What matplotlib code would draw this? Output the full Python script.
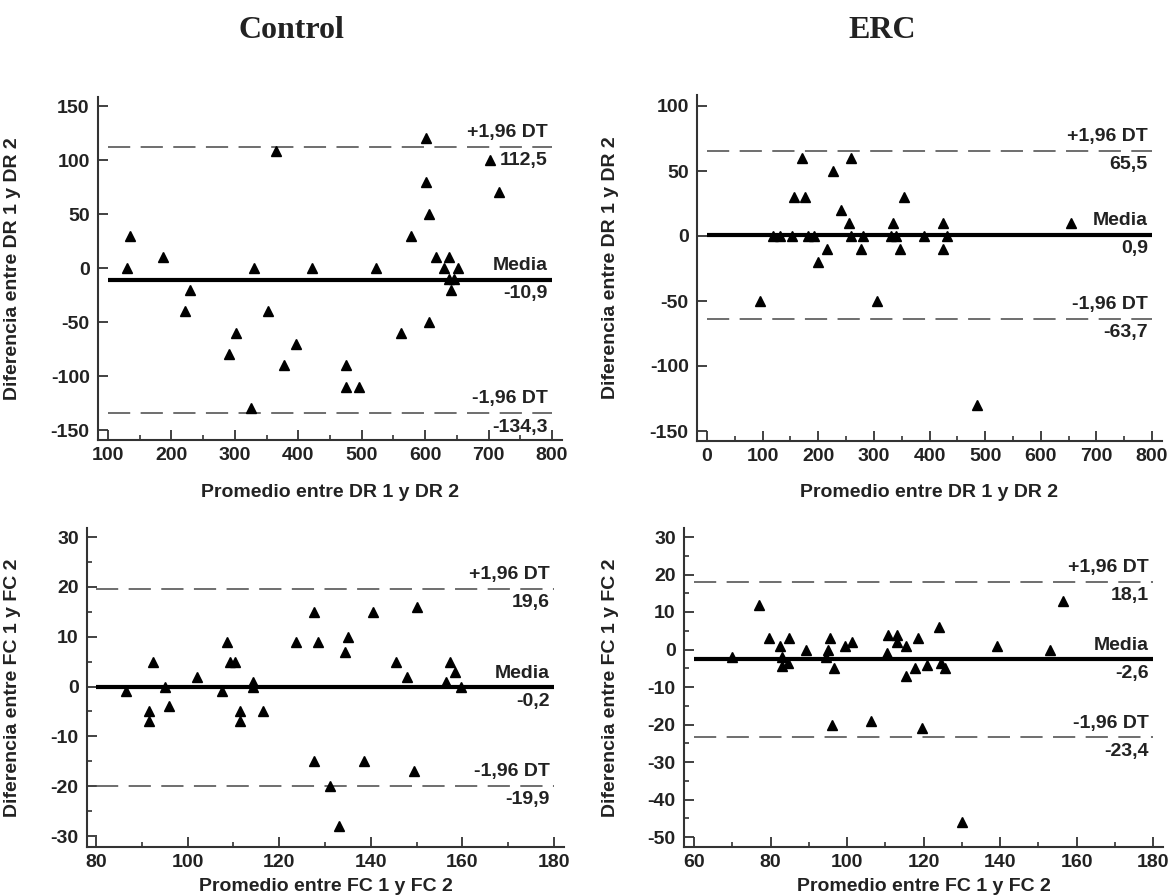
import matplotlib
matplotlib.use('Agg')
import matplotlib.pyplot as plt
from matplotlib.ticker import MultipleLocator

plt.rcParams['font.family'] = ['Liberation Sans', 'DejaVu Sans']
plt.rcParams['font.weight'] = 'bold'
plt.rcParams['lines.scale_dashes'] = False
plt.rcParams['axes.unicode_minus'] = False

# ---- data ----
# Control, DR (promedio, diferencia)
ctrl_dr_avg = [130, 135, 186, 221, 230, 290, 302, 330, 326, 352, 365, 377, 396, 421,
               476, 476, 496, 522, 562, 577, 601, 601, 606, 606, 617, 637, 630, 652,
               637, 646, 641, 702, 717]
ctrl_dr_diff = [0, 30, 10, -40, -20, -80, -60, 0, -130, -40, 108, -90, -70, 0,
                -90, -110, -110, 0, -60, 30, 120, 80, 50, -50, 10, 10, 0, 0,
                -10, -10, -20, 100, 70]
ctrl_dr_stats = [-10.9, 112.5, -134.3]  # media, +1,96 DT, -1,96 DT

# ERC, DR
erc_dr_avg = [96, 156, 176, 171, 226, 240, 255, 259, 200, 216, 276, 305, 335, 355,
              347, 425, 425, 655, 119, 131, 152, 182, 192, 259, 280, 330, 340, 391,
              431, 485]
erc_dr_diff = [-50, 30, 30, 60, 50, 20, 10, 60, -20, -10, -10, -50, 10, 30,
               -10, 10, -10, 10, 0, 0, 0, 0, 0, 0, 0, 0, 0, 0,
               0, -130]
erc_dr_stats = [0.9, 65.5, -63.7]

# Control, FC
ctrl_fc_avg = [86.5, 91.6, 91.6, 92.4, 95, 96, 102, 107.5, 108.5, 109.3, 110.4, 111.5,
               111.5, 114.2, 114.2, 116.5, 123.7, 127.5, 127.5, 128.5, 131, 133, 134.4,
               135, 138.6, 140.5, 145.5, 148, 149.5, 150, 156.4, 157.4, 158.4, 159.8]
ctrl_fc_diff = [-1, -5, -7, 5, 0, -4, 2, -1, 9, 5, 5, -5,
                -7, 1, 0, -5, 9, 15, -15, 9, -20, -28, 7,
                10, -15, 15, 5, 2, -17, 16, 1, 5, 3, 0]
ctrl_fc_stats = [-0.2, 19.6, -19.9]

# ERC, FC
erc_fc_avg = [70, 77, 79.6, 82.6, 84.8, 83, 83, 84.6, 89.2, 95.6, 95, 94.6, 96.7,
              96.2, 99.5, 101.2, 106.4, 110.5, 110.8, 113.2, 113.2, 115.5, 115.5,
              117.7, 118.6, 119.6, 120.9, 124, 124.5, 125.5, 130, 139.3, 153, 156.5]
erc_fc_diff = [-2, 12, 3, 1, 3, -2, -4.5, -3.5, 0, 3, 0, -2, -5,
               -20, 1, 2, -19, -1, 4, 4, 2, 1, -7,
               -5, 3, -21, -4, 6, -3.5, -5, -46, 1, 0, 13]
erc_fc_stats = [-2.6, 18.1, -23.4]

group_titles = ['Control', 'ERC']
dr_ylabel = 'Diferencia entre DR 1 y DR 2'
dr_xlabel = 'Promedio entre DR 1 y DR 2'
fc_ylabel = 'Diferencia entre FC 1 y FC 2'
fc_xlabel = 'Promedio entre FC 1 y FC 2'

# ---- layout (pixels in a 1169 x 896 figure) ----
W, H = 1169, 896
fig = plt.figure(figsize=(W / 100, H / 100), dpi=100)
fig.patch.set_facecolor('white')

txt_col = '#222222'
fs = 14


def make_axes(x0, x1, ytop, ybot, xr, yr, pl=10, pr=10, pt=9, pb=10):
    ux = (xr[1] - xr[0]) / (x1 - x0)
    uy = (yr[1] - yr[0]) / (ybot - ytop)
    left, right = x0 - pl, x1 + pr
    top, bottom = ytop - pt, ybot + pb
    ax = fig.add_axes([left / W, 1 - bottom / H, (right - left) / W, (bottom - top) / H])
    ax.set_xlim(xr[0] - pl * ux, xr[1] + pr * ux)
    ax.set_ylim(yr[0] - pb * uy, yr[1] + pt * uy)
    return ax, left, right, top, bottom


def bland_altman(ax, box, avg, diff, stats, xr, yr, xmaj, xmin_, ymaj, ymin_,
                 xlabel, ylabel, ylab_x, xlab_y):
    left, right, top, bottom = box
    mean, up, lo = stats
    ax.plot(avg, diff, linestyle='none', marker='^', ms=7, color='black', zorder=3)
    ax.plot([xr[0], xr[1]], [mean, mean], color='black', lw=3, zorder=2,
            solid_capstyle='butt')
    for v in (up, lo):
        ax.plot([xr[0], xr[1]], [v, v], color='#555555', lw=1.2,
                linestyle=(0, (16, 7.5)), zorder=2)
    labels = [('Media', mean), ('+1,96 DT', up), ('-1,96 DT', lo)]
    for name, v in labels:
        ax.annotate(name, (xr[1], v), xytext=(-3, 4), textcoords='offset points',
                    ha='right', va='bottom', fontsize=fs, fontweight='bold', color=txt_col)
        ax.annotate(f'{v:.1f}'.replace('.', ','), (xr[1], v), xytext=(-3, -4),
                    textcoords='offset points', ha='right', va='top', fontsize=fs,
                    fontweight='bold', color=txt_col)

    for s in ('top', 'right'):
        ax.spines[s].set_visible(False)
    for s in ('left', 'bottom'):
        ax.spines[s].set_linewidth(1.5)
        ax.spines[s].set_color('#333333')

    ax.set_xticks(range(xr[0], xr[1] + 1, xmaj))
    ax.set_yticks(range(yr[0], yr[1] + 1, ymaj))
    if xmin_:
        ax.xaxis.set_minor_locator(MultipleLocator(xmin_))
    if ymin_:
        ax.yaxis.set_minor_locator(MultipleLocator(ymin_))
    ax.tick_params(which='major', direction='in', length=7, width=1.3, color='#333333',
                   labelsize=fs, labelcolor=txt_col)
    ax.tick_params(which='minor', direction='in', length=3.5, width=1.2, color='#333333')
    ax.tick_params(axis='y', pad=6)
    ax.tick_params(axis='x', pad=5)
    for t in ax.get_xticklabels() + ax.get_yticklabels():
        t.set_fontweight('bold')

    ax.set_xlabel(xlabel, fontsize=fs, fontweight='bold', color=txt_col)
    ax.set_ylabel(ylabel, fontsize=fs, fontweight='bold', color=txt_col)
    ax.yaxis.set_label_coords((ylab_x - left) / (right - left), 0.5)
    ax.xaxis.set_label_coords(0.5, (bottom - xlab_y) / (bottom - top))


# top-left: Control DR
ax1, *b1 = make_axes(108, 552, 106, 430, (100, 800), (-150, 150))
bland_altman(ax1, b1, ctrl_dr_avg, ctrl_dr_diff, ctrl_dr_stats, (100, 800), (-150, 150),
             100, 50, 50, None, dr_xlabel, dr_ylabel, 21, 484)

# top-right: ERC DR
ax2, *b2 = make_axes(707, 1152, 106, 431, (0, 800), (-150, 100), pt=11)
bland_altman(ax2, b2, erc_dr_avg, erc_dr_diff, erc_dr_stats, (0, 800), (-150, 100),
             100, 50, 50, None, dr_xlabel, dr_ylabel, 619, 484)

# bottom-left: Control FC
ax3, *b3 = make_axes(96, 554, 537, 836, (80, 180), (-30, 30), pl=9, pb=11)
bland_altman(ax3, b3, ctrl_fc_avg, ctrl_fc_diff, ctrl_fc_stats, (80, 180), (-30, 30),
             20, 10, 10, 5, fc_xlabel, fc_ylabel, 21, 878)

# bottom-right: ERC FC
ax4, *b4 = make_axes(694, 1153, 537, 837, (60, 180), (-50, 30), pb=10)
bland_altman(ax4, b4, erc_fc_avg, erc_fc_diff, erc_fc_stats, (60, 180), (-50, 30),
             20, 10, 10, 5, fc_xlabel, fc_ylabel, 619, 878)

# group titles
for cx, title in zip((291, 882), group_titles):
    fig.text(cx / W, 1 - 30 / H, title, ha='center', va='center',
             fontsize=23, fontweight='bold', family=['Liberation Serif', 'DejaVu Serif'],
             color=txt_col)

fig.savefig('out.png', dpi=100, facecolor='white')
